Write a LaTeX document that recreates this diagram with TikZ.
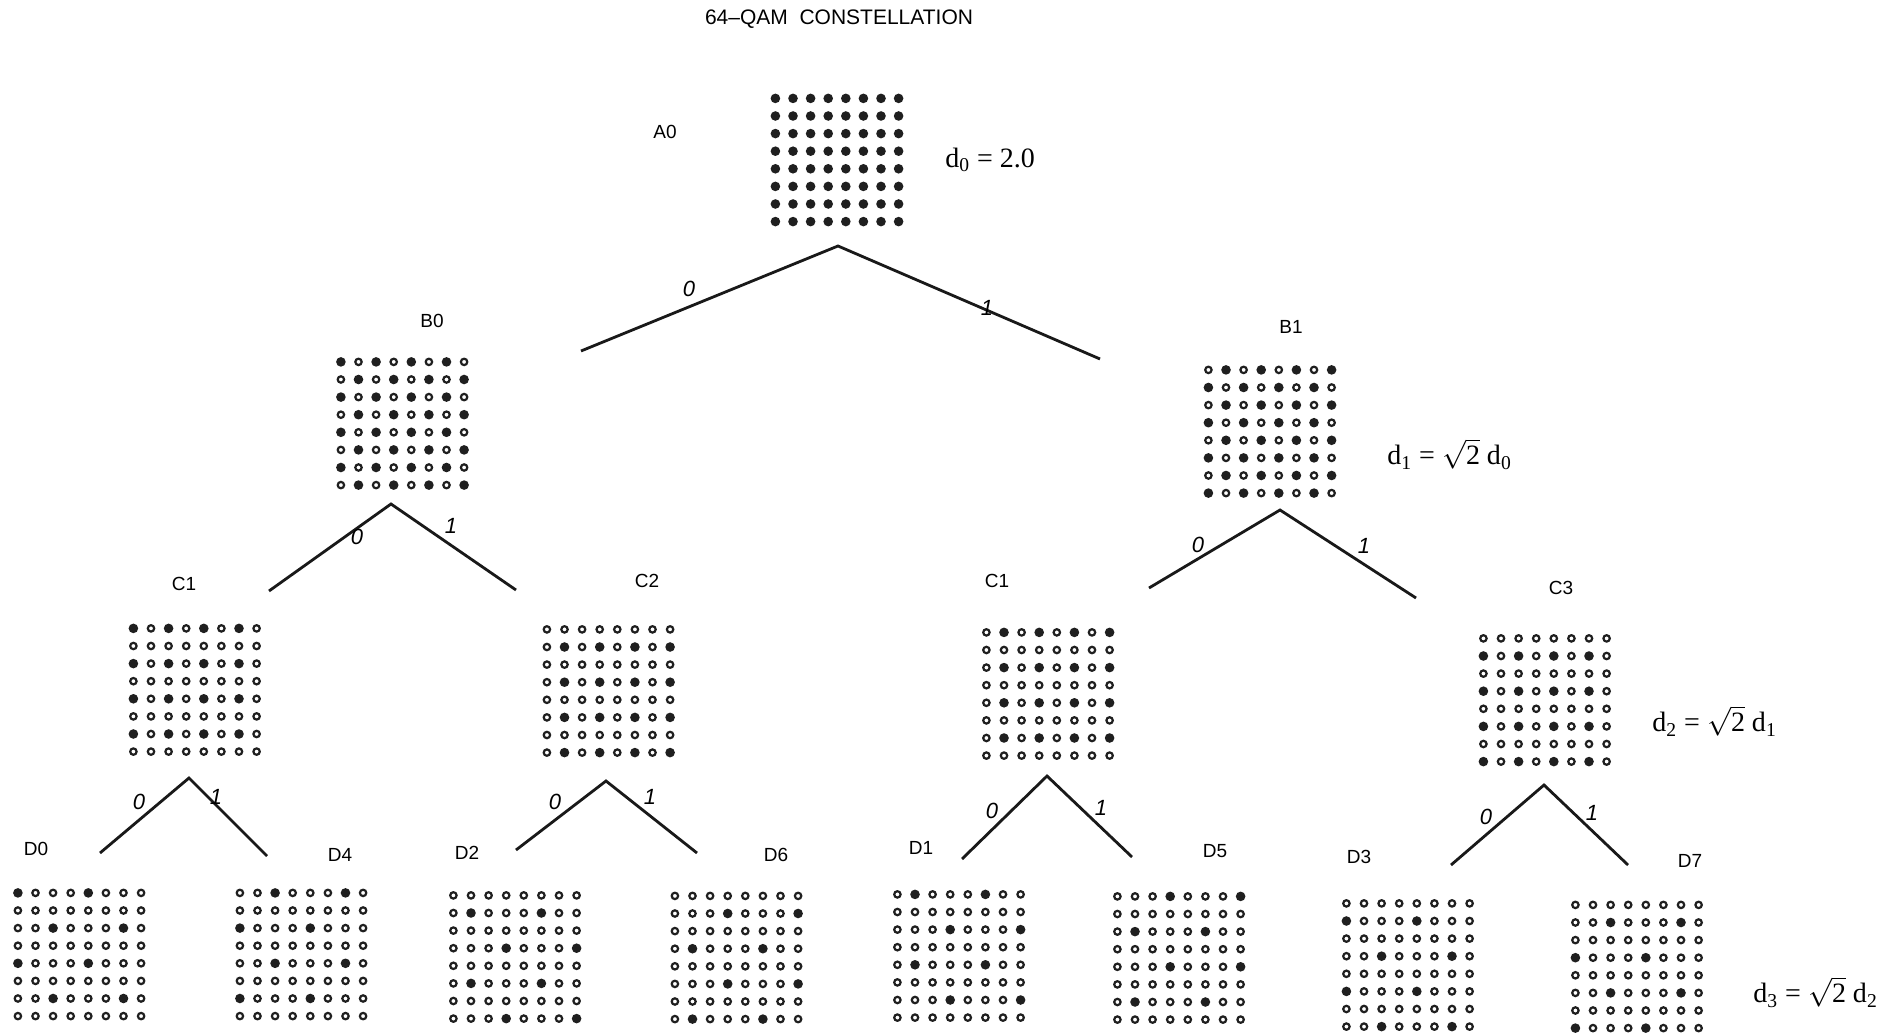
\documentclass[tikz,border=0pt]{standalone}
\usepackage{fontspec}
\setmainfont{Liberation Serif}
\setsansfont{Liberation Sans}
\usetikzlibrary{calc}
\tikzset{
  dotf/.style={fill=black!88},
  doto/.style={draw=black!88, line width=1.1pt, fill=white},
  branch/.style={line width=1.4pt, draw=black!90},
  setlabel/.style={font=\sffamily\fontsize{9.5}{11}\selectfont, inner sep=0pt},
  bitlabel/.style={font=\sffamily\itshape\fontsize{11}{13}\selectfont, inner sep=0pt},
  eqlabel/.style={font=\fontsize{14}{16}\selectfont, anchor=west, inner sep=0pt},
}
\newcommand\qamgrid[4]{%
  \coordinate (#1) at (#2,#3);
  \foreach \qr in {0,...,7}{\foreach \qc in {0,...,7}{%
    \pgfmathtruncatemacro\qf{#4}%
    \ifnum\qf=1
      \fill[dotf] ({#2+(\qc-3.5)*17.6},{#3+(\qr-3.5)*17.6}) circle[radius=2.4pt];
    \else
      \draw[doto] ({#2+(\qc-3.5)*17.6},{#3+(\qr-3.5)*17.6}) circle[radius=1.6pt];
    \fi
  }}}
\begin{document}
\begin{tikzpicture}[x=0.5pt,y=-0.5pt]
\useasboundingbox[fill=white] (0,0) rectangle (1883,1036);

% title
\node[font=\sffamily\fontsize{10.5}{12}\selectfont] (title) at (839,19) {64–QAM\ \ CONSTELLATION};

% grids
\qamgrid{A0}{837}{160}{1}
\qamgrid{B0}{402.5}{423.5}{mod(\qr+\qc,2)==0}
\qamgrid{B1}{1270}{431.5}{mod(\qr+\qc,2)==1}
\qamgrid{C1L}{195}{690}{(mod(\qr,2)==0)*(mod(\qc,2)==0)}
\qamgrid{C2}{608.5}{691}{(mod(\qr,2)==1)*(mod(\qc,2)==1)}
\qamgrid{C1R}{1048}{694}{(mod(\qr,2)==0)*(mod(\qc,2)==1)}
\qamgrid{C3}{1545}{700}{(mod(\qr,2)==1)*(mod(\qc,2)==0)}
\qamgrid{D0}{79.5}{954.5}{(mod(\qr,2)==0)*(mod(\qc,2)==0)*(mod(\qr+\qc,4)==0)}
\qamgrid{D4}{301.5}{954.5}{(mod(\qr,2)==0)*(mod(\qc,2)==0)*(mod(\qr+\qc,4)==2)}
\qamgrid{D2}{515}{957}{(mod(\qr,2)==1)*(mod(\qc,2)==1)*(mod(\qr+\qc,4)==2)}
\qamgrid{D6}{736.5}{957.5}{(mod(\qr,2)==1)*(mod(\qc,2)==1)*(mod(\qr+\qc,4)==0)}
\qamgrid{D1}{959}{956}{(mod(\qr,2)==0)*(mod(\qc,2)==1)*(mod(\qr+\qc,4)==1)}
\qamgrid{D5}{1179}{958}{(mod(\qr,2)==0)*(mod(\qc,2)==1)*(mod(\qr+\qc,4)==3)}
\qamgrid{D3}{1408}{965}{(mod(\qr,2)==1)*(mod(\qc,2)==0)*(mod(\qr+\qc,4)==1)}
\qamgrid{D7}{1637}{966.5}{(mod(\qr,2)==1)*(mod(\qc,2)==0)*(mod(\qr+\qc,4)==3)}

% set labels
\node[setlabel] (lA0) at (665,132) {A0};
\node[setlabel] (lB0) at (432,321) {B0};
\node[setlabel] (lB1) at (1291,327) {B1};
\node[setlabel] (lC1L) at (184,584) {C1};
\node[setlabel] (lC2) at (647,581) {C2};
\node[setlabel] (lC1R) at (997,581) {C1};
\node[setlabel] (lC3) at (1561,588) {C3};
\node[setlabel] (lD0) at (36,849) {D0};
\node[setlabel] (lD4) at (340,855) {D4};
\node[setlabel] (lD2) at (467,853) {D2};
\node[setlabel] (lD6) at (776,855) {D6};
\node[setlabel] (lD1) at (921,848) {D1};
\node[setlabel] (lD5) at (1215,851) {D5};
\node[setlabel] (lD3) at (1359,857) {D3};
\node[setlabel] (lD7) at (1690,861) {D7};

% distances
\node[eqlabel] (e0) at (945,160) {d\textsubscript{0} = 2.0};
\node[eqlabel] (e1) at (1387,454) {d\textsubscript{1} = $\sqrt{\mbox{2}}$ d\textsubscript{0}};
\node[eqlabel] (e2) at (1652,721) {d\textsubscript{2} = $\sqrt{\mbox{2}}$ d\textsubscript{1}};
\node[eqlabel] (e3) at (1753,992) {d\textsubscript{3} = $\sqrt{\mbox{2}}$ d\textsubscript{2}};

% tree coordinates
\coordinate (tA) at (838,246);  \coordinate (tAl) at (581,351);  \coordinate (tAr) at (1100,359);
\coordinate (tB0) at (391,504); \coordinate (tB0l) at (269,591); \coordinate (tB0r) at (516,590);
\coordinate (tB1) at (1280,510); \coordinate (tB1l) at (1149,588); \coordinate (tB1r) at (1416,598);
\coordinate (tC1L) at (189,778); \coordinate (tC1Ll) at (100,853); \coordinate (tC1Lr) at (267,856);
\coordinate (tC2) at (606,781); \coordinate (tC2l) at (516,850); \coordinate (tC2r) at (697,853);
\coordinate (tC1R) at (1047,776); \coordinate (tC1Rl) at (962,859); \coordinate (tC1Rr) at (1132,857);
\coordinate (tC3) at (1544,785); \coordinate (tC3l) at (1451,865); \coordinate (tC3r) at (1628,865);

\foreach \t in {tA,tB0,tB1,tC1L,tC2,tC1R,tC3}{
  \draw[branch] (\t l) -- (\t) -- (\t r);
}

% bit labels
\node[bitlabel] (bA0) at (689,289) {0};   \node[bitlabel] (bA1) at (987,308) {1};
\node[bitlabel] (bB00) at (357,537) {0};  \node[bitlabel] (bB01) at (451,526) {1};
\node[bitlabel] (bB10) at (1198,545) {0}; \node[bitlabel] (bB11) at (1364,546) {1};
\node[bitlabel] (bC10) at (139,802) {0};  \node[bitlabel] (bC11) at (216,797) {1};
\node[bitlabel] (bC20) at (555,802) {0};  \node[bitlabel] (bC21) at (650,797) {1};
\node[bitlabel] (bC1R0) at (992,811) {0}; \node[bitlabel] (bC1R1) at (1101,808) {1};
\node[bitlabel] (bC30) at (1486,817) {0}; \node[bitlabel] (bC31) at (1592,813) {1};
\end{tikzpicture}
\end{document}
